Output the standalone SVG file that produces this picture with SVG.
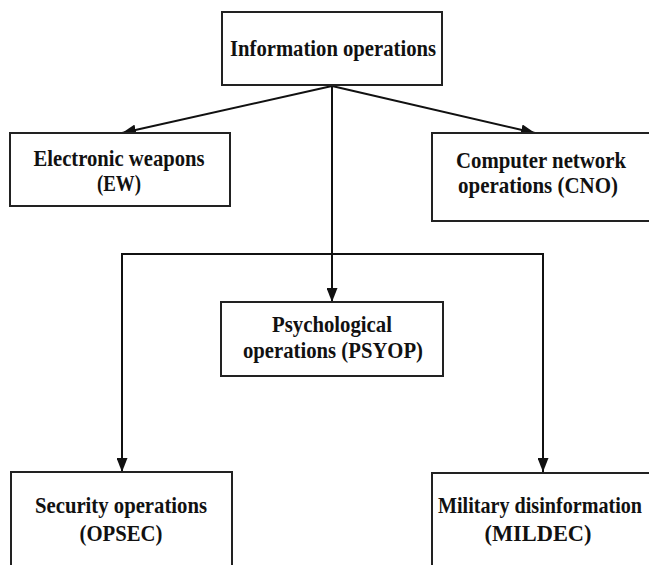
<svg xmlns="http://www.w3.org/2000/svg" width="649" height="565" viewBox="0 0 649 565">
<style>
.box{fill:#fff;stroke:#222;stroke-width:2}
.t{font-family:"Liberation Serif","Times New Roman",serif;font-weight:bold;font-size:20px;fill:#111;text-anchor:middle}
.c{fill:none;stroke:#111;stroke-width:2}
</style>
<defs>
<marker id="ah" markerWidth="14" markerHeight="11" refX="14" refY="5.5" orient="auto" markerUnits="userSpaceOnUse">
<path d="M0,0 L14,5.5 L0,11 Z" fill="#111"/>
</marker>
</defs>
<rect width="649" height="565" fill="#fff"/>
<g id="connectors">
<line class="c" x1="332" y1="86" x2="122" y2="133" marker-end="url(#ah)"/>
<line class="c" x1="332" y1="86" x2="535" y2="133" marker-end="url(#ah)"/>
<line class="c" x1="332" y1="86" x2="332" y2="302" marker-end="url(#ah)"/>
<polyline class="c" points="332,254 122,254 122,472" marker-end="url(#ah)"/>
<polyline class="c" points="332,254 543,254 543,472" marker-end="url(#ah)"/>
</g>
<g id="info">
<rect class="box" x="222" y="12" width="220" height="73"/>
<text class="t" transform="translate(333,56) scale(1,1.2)" textLength="206" lengthAdjust="spacingAndGlyphs">Information operations</text>
</g>
<g id="ew">
<rect class="box" x="10" y="133" width="220" height="73"/>
<text class="t" transform="translate(119,166) scale(1,1.2)" textLength="171" lengthAdjust="spacingAndGlyphs">Electronic weapons</text>
<text class="t" transform="translate(119,191) scale(1,1.2)" textLength="44" lengthAdjust="spacingAndGlyphs">(EW)</text>
</g>
<g id="cno">
<path class="box" d="M649,133 H432 V221 H649"/>
<text class="t" transform="translate(541,168) scale(1,1.2)" textLength="170" lengthAdjust="spacingAndGlyphs">Computer network</text>
<text class="t" transform="translate(538,193) scale(1,1.2)" textLength="160" lengthAdjust="spacingAndGlyphs">operations (CNO)</text>
</g>
<g id="psyop">
<rect class="box" x="221" y="302" width="222" height="74"/>
<text class="t" transform="translate(332,332) scale(1,1.2)" textLength="120" lengthAdjust="spacingAndGlyphs">Psychological</text>
<text class="t" transform="translate(333,358) scale(1,1.2)" textLength="180" lengthAdjust="spacingAndGlyphs">operations (PSYOP)</text>
</g>
<g id="opsec">
<path class="box" d="M11,565 V472 H232 V565"/>
<text class="t" transform="translate(121,513) scale(1,1.2)" textLength="172" lengthAdjust="spacingAndGlyphs">Security operations</text>
<text class="t" transform="translate(121,541) scale(1,1.2)" textLength="83" lengthAdjust="spacingAndGlyphs">(OPSEC)</text>
</g>
<g id="mildec">
<path class="box" d="M432,565 V473 H649"/>
<text class="t" transform="translate(540,513) scale(1,1.2)" textLength="204" lengthAdjust="spacingAndGlyphs">Military disinformation</text>
<text class="t" transform="translate(538,541) scale(1,1.2)" textLength="107" lengthAdjust="spacingAndGlyphs">(MILDEC)</text>
</g>
</svg>
